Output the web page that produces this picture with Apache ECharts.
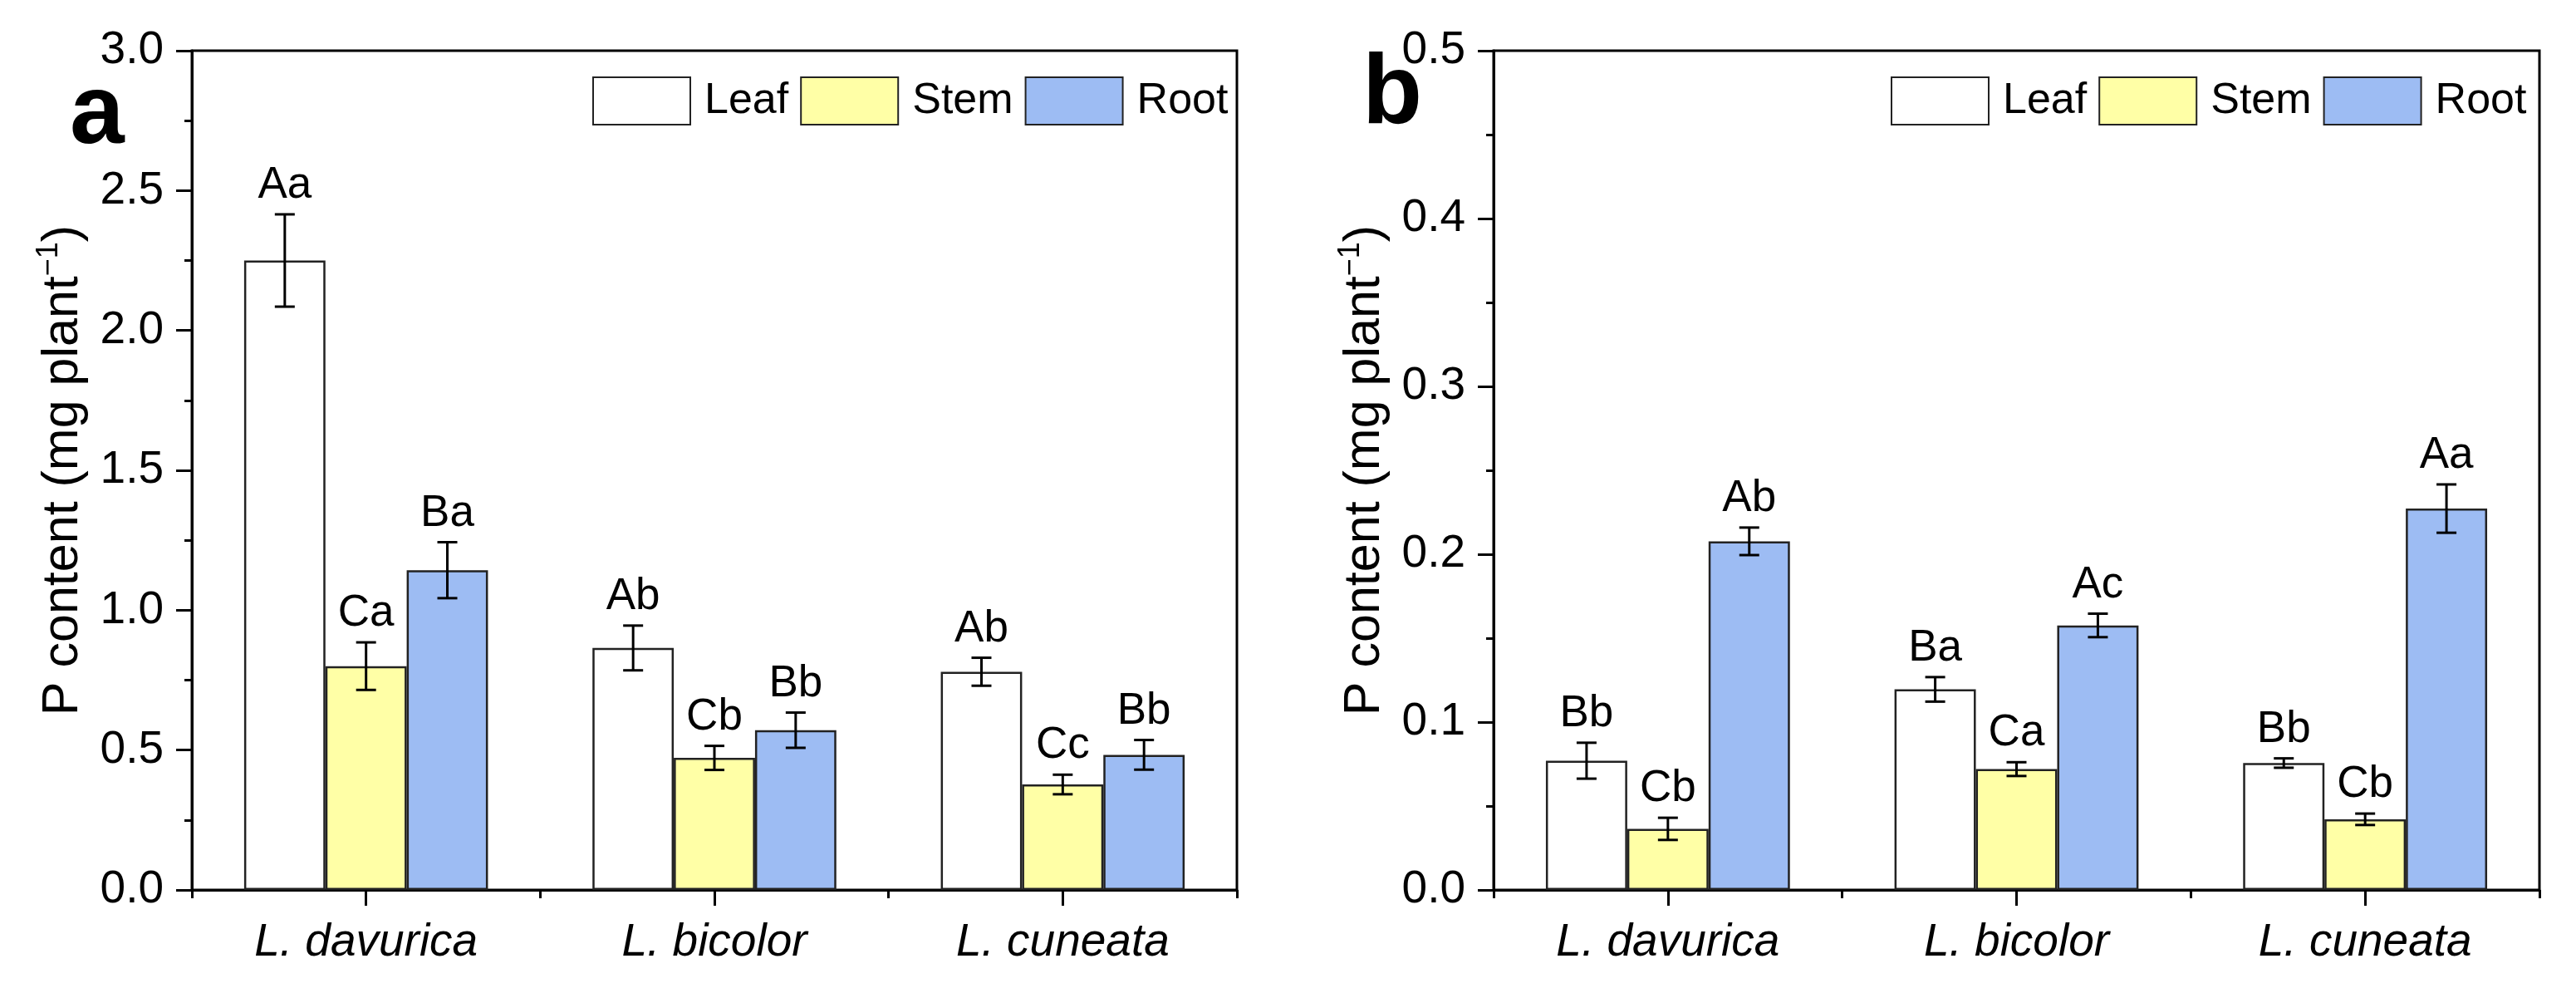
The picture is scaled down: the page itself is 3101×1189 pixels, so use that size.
<!DOCTYPE html>
<html>
<head>
<meta charset="utf-8">
<script src="https://cdn.jsdelivr.net/npm/echarts@6/dist/echarts.min.js"></script>
<style>
html,body{margin:0;padding:0;background:#fff;}
#main{width:3101px;height:1189px;}
</style>
</head>
<body>
<div id="main"></div>
<script>
// categories and groups
var species = ['L. davurica', 'L. bicolor', 'L. cuneata'];
var organs = ['Leaf', 'Stem', 'Root'];

// panel a : P content (mg plant-1)
var aLeaf = [2.25, 0.865, 0.78];
var aStem = [0.80, 0.472, 0.377];
var aRoot = [1.143, 0.571, 0.483];
var aLeafErr = [0.165, 0.08, 0.05];
var aStemErr = [0.085, 0.043, 0.035];
var aRootErr = [0.10, 0.063, 0.053];
var aLeafLab = ['Aa', 'Ab', 'Ab'];
var aStemLab = ['Ca', 'Cb', 'Cc'];
var aRootLab = ['Ba', 'Bb', 'Bb'];
var aTicks = ['0.0', '0.5', '1.0', '1.5', '2.0', '2.5', '3.0'];

// panel b
var bLeaf = [0.077, 0.1195, 0.0756];
var bStem = [0.0364, 0.072, 0.0421];
var bRoot = [0.2077, 0.1576, 0.2272];
var bLeafErr = [0.0107, 0.0073, 0.0028];
var bStemErr = [0.0066, 0.0041, 0.0034];
var bRootErr = [0.0082, 0.007, 0.0144];
var bLeafLab = ['Bb', 'Ba', 'Bb'];
var bStemLab = ['Cb', 'Ca', 'Cb'];
var bRootLab = ['Ab', 'Ac', 'Aa'];
var bTicks = ['0.0', '0.1', '0.2', '0.3', '0.4', '0.5'];

var FONT = 'Liberation Sans, Arial, sans-serif';
var colors = ['#ffffff', '#ffffa6', '#9dbcf3'];

// build [cat, organIdx, mean, err] rows + matching labels for error bar series
function errRows(means, errs, labs){
    var rows = [], texts = [];
    for (var k = 0; k < 3; k++) {
        for (var c = 0; c < species.length; c++) {
            rows.push([c, k, means[k][c], errs[k][c]]);
            texts.push(labs[k][c]);
        }
    }
    return {rows: rows, texts: texts};
}
var aErr = errRows([aLeaf, aStem, aRoot], [aLeafErr, aStemErr, aRootErr], [aLeafLab, aStemLab, aRootLab]);
var bErr = errRows([bLeaf, bStem, bRoot], [bLeafErr, bStemErr, bRootErr], [bLeafLab, bStemLab, bRootLab]);

function makeRender(texts){
    return function(params, api){
        var c = api.value(0), k = api.value(1), m = api.value(2), e = api.value(3);
        var band = api.size([1, 0])[0];
        var bw = band * 0.7 / 3;
        var cx = api.coord([c, 0])[0] + (k - 1) * bw;
        var yTop = api.coord([c, m + e])[1];
        var yBot = api.coord([c, m - e])[1];
        var hw = 12;
        var st = {stroke: '#000', lineWidth: 3};
        return {
            type: 'group',
            children: [
                {type: 'line', shape: {x1: cx, y1: yTop, x2: cx, y2: yBot}, style: st},
                {type: 'line', shape: {x1: cx - hw, y1: yTop, x2: cx + hw, y2: yTop}, style: st},
                {type: 'line', shape: {x1: cx - hw, y1: yBot, x2: cx + hw, y2: yBot}, style: st},
                {type: 'text', style: {text: texts[params.dataIndex], x: cx, y: yTop - 8,
                    align: 'center', verticalAlign: 'bottom', fill: '#000',
                    fontSize: 53, fontFamily: FONT}}
            ]
        };
    };
}

function yAxisOf(idx, max, step, ticks){
    return {
        type: 'value', gridIndex: idx, min: 0, max: max, interval: step,
        name: '{m|P content (mg plant}{s|−1}{m|)}',
        nameLocation: 'middle', nameGap: 120,
        nameTextStyle: {
            rich: {
                m: {fontSize: 61, fontFamily: FONT, color: '#000', lineHeight: 70},
                s: {fontSize: 36, fontFamily: FONT, color: '#000', verticalAlign: 'top', lineHeight: 70, padding: [0, 0, 28, 0]}
            }
        },
        axisLine: {show: true, lineStyle: {color: '#000', width: 3}},
        axisTick: {show: true, length: 19, lineStyle: {color: '#000', width: 3}},
        minorTick: {show: true, splitNumber: 2, length: 9, lineStyle: {color: '#000', width: 3}},
        splitLine: {show: false},
        axisLabel: {
            fontSize: 55, fontFamily: FONT, color: '#000', margin: 34,
            formatter: function(v){ return ticks[Math.round(v / step)]; }
        }
    };
}

function xAxesOf(idx){
    return [{
        type: 'category', gridIndex: idx, data: species, position: 'bottom',
        axisLine: {show: true, lineStyle: {color: '#000', width: 3}},
        axisTick: {show: true, alignWithLabel: true, length: 19, lineStyle: {color: '#000', width: 3}},
        axisLabel: {fontSize: 55, fontStyle: 'italic', fontFamily: FONT, color: '#000', margin: 36}
    }, {
        type: 'category', gridIndex: idx, data: species, position: 'bottom',
        axisLine: {show: false},
        axisTick: {show: true, length: 10, lineStyle: {color: '#000', width: 3}},
        axisLabel: {show: false}
    }];
}

function barSeries(idx, vals){
    var out = [];
    for (var k = 0; k < 3; k++) {
        out.push({
            name: organs[k], type: 'bar', xAxisIndex: idx * 2, yAxisIndex: idx,
            data: vals[k], barGap: 0, barCategoryGap: '30%',
            itemStyle: {color: colors[k], borderColor: '#222', borderWidth: 2.5},
            emphasis: {disabled: true}
        });
    }
    return out;
}

function legendAt(x){
    return {
        left: x, top: 87, itemWidth: 117, itemHeight: 57, itemGap: 14,
        icon: 'rect', data: organs, selectedMode: false,
        textStyle: {fontSize: 52, fontFamily: FONT, color: '#000', padding: [0, 0, 0, 12]}
    };
}

var option = {
    animation: false,
    backgroundColor: '#fff',
    grid: [
        {left: 231, top: 61, width: 1258, height: 1010, show: true, borderColor: '#000', borderWidth: 3},
        {left: 1798, top: 61, width: 1259, height: 1010, show: true, borderColor: '#000', borderWidth: 3}
    ],
    legend: [legendAt(708), legendAt(2271)],
    graphic: [
        {type: 'text', left: 84, top: 80, style: {text: 'a', fontSize: 118, fontWeight: 'bold', fontFamily: FONT, fill: '#000'}},
        {type: 'text', left: 1640, top: 56, style: {text: 'b', fontSize: 118, fontWeight: 'bold', fontFamily: FONT, fill: '#000'}}
    ],
    xAxis: xAxesOf(0).concat(xAxesOf(1)),
    yAxis: [yAxisOf(0, 3, 0.5, aTicks), yAxisOf(1, 0.5, 0.1, bTicks)],
    series: barSeries(0, [aLeaf, aStem, aRoot]).concat(barSeries(1, [bLeaf, bStem, bRoot])).concat([
        {type: 'custom', xAxisIndex: 0, yAxisIndex: 0, renderItem: makeRender(aErr.texts), data: aErr.rows, z: 5,
            encode: {x: 0, y: 2}},
        {type: 'custom', xAxisIndex: 2, yAxisIndex: 1, renderItem: makeRender(bErr.texts), data: bErr.rows, z: 5,
            encode: {x: 0, y: 2}}
    ])
};

var chart = echarts.init(document.getElementById('main'));
chart.setOption(option);
</script>
</body>
</html>
